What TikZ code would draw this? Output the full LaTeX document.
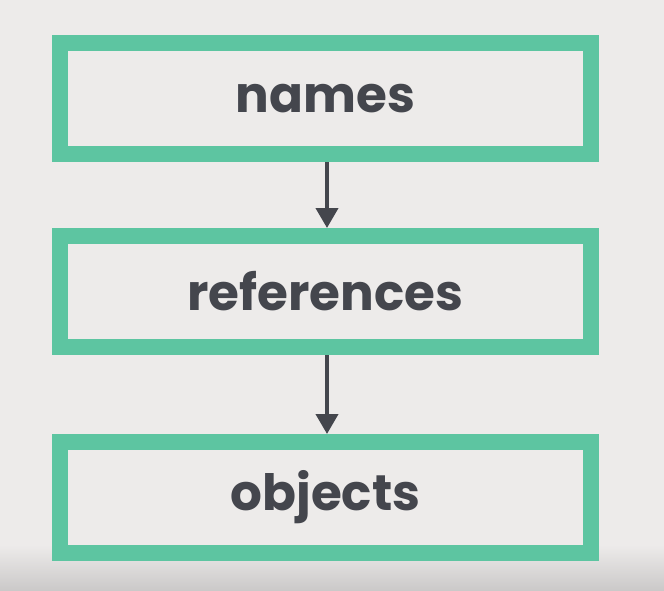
\documentclass[tikz,border=0pt]{standalone}
\usepackage{fontspec}
\setmainfont{Poppins}
\usepackage{tikz}
\usetikzlibrary{arrows.meta,positioning}
\definecolor{boxgreen}{HTML}{5DC5A1}
\definecolor{textgray}{HTML}{44464D}
\definecolor{bggray}{HTML}{EDEBEA}
\definecolor{bgdark}{HTML}{CBC9C9}

\begin{document}
\begin{tikzpicture}[
  x=1pt, y=-1pt,
  box/.style={draw=boxgreen, line width=16pt, minimum width=531pt, minimum height=111pt, inner sep=0pt, text=textgray, font=\fontsize{50}{55}\selectfont\bfseries},
  flow/.style={-{Triangle[length=20pt, width=22pt]}, line width=4pt, textgray}
]
% background, a little darker at the bottom
\fill[bggray] (0,0) rectangle (664,590);
\shade[top color=bggray, bottom color=bgdark] (0,545) rectangle (664,590);

\node[box] (names) at (325.5,98.5) {names};
\node[box] (refs) at (325.5,291.5) {references};
\node[box] (objs) at (325.5,497.5) {objects};

\draw[flow] ([xshift=1.5pt]names.south) -- ([xshift=1.5pt]refs.north);
\draw[flow] ([xshift=1.5pt]refs.south) -- ([xshift=1.5pt]objs.north);
\end{tikzpicture}
\end{document}
